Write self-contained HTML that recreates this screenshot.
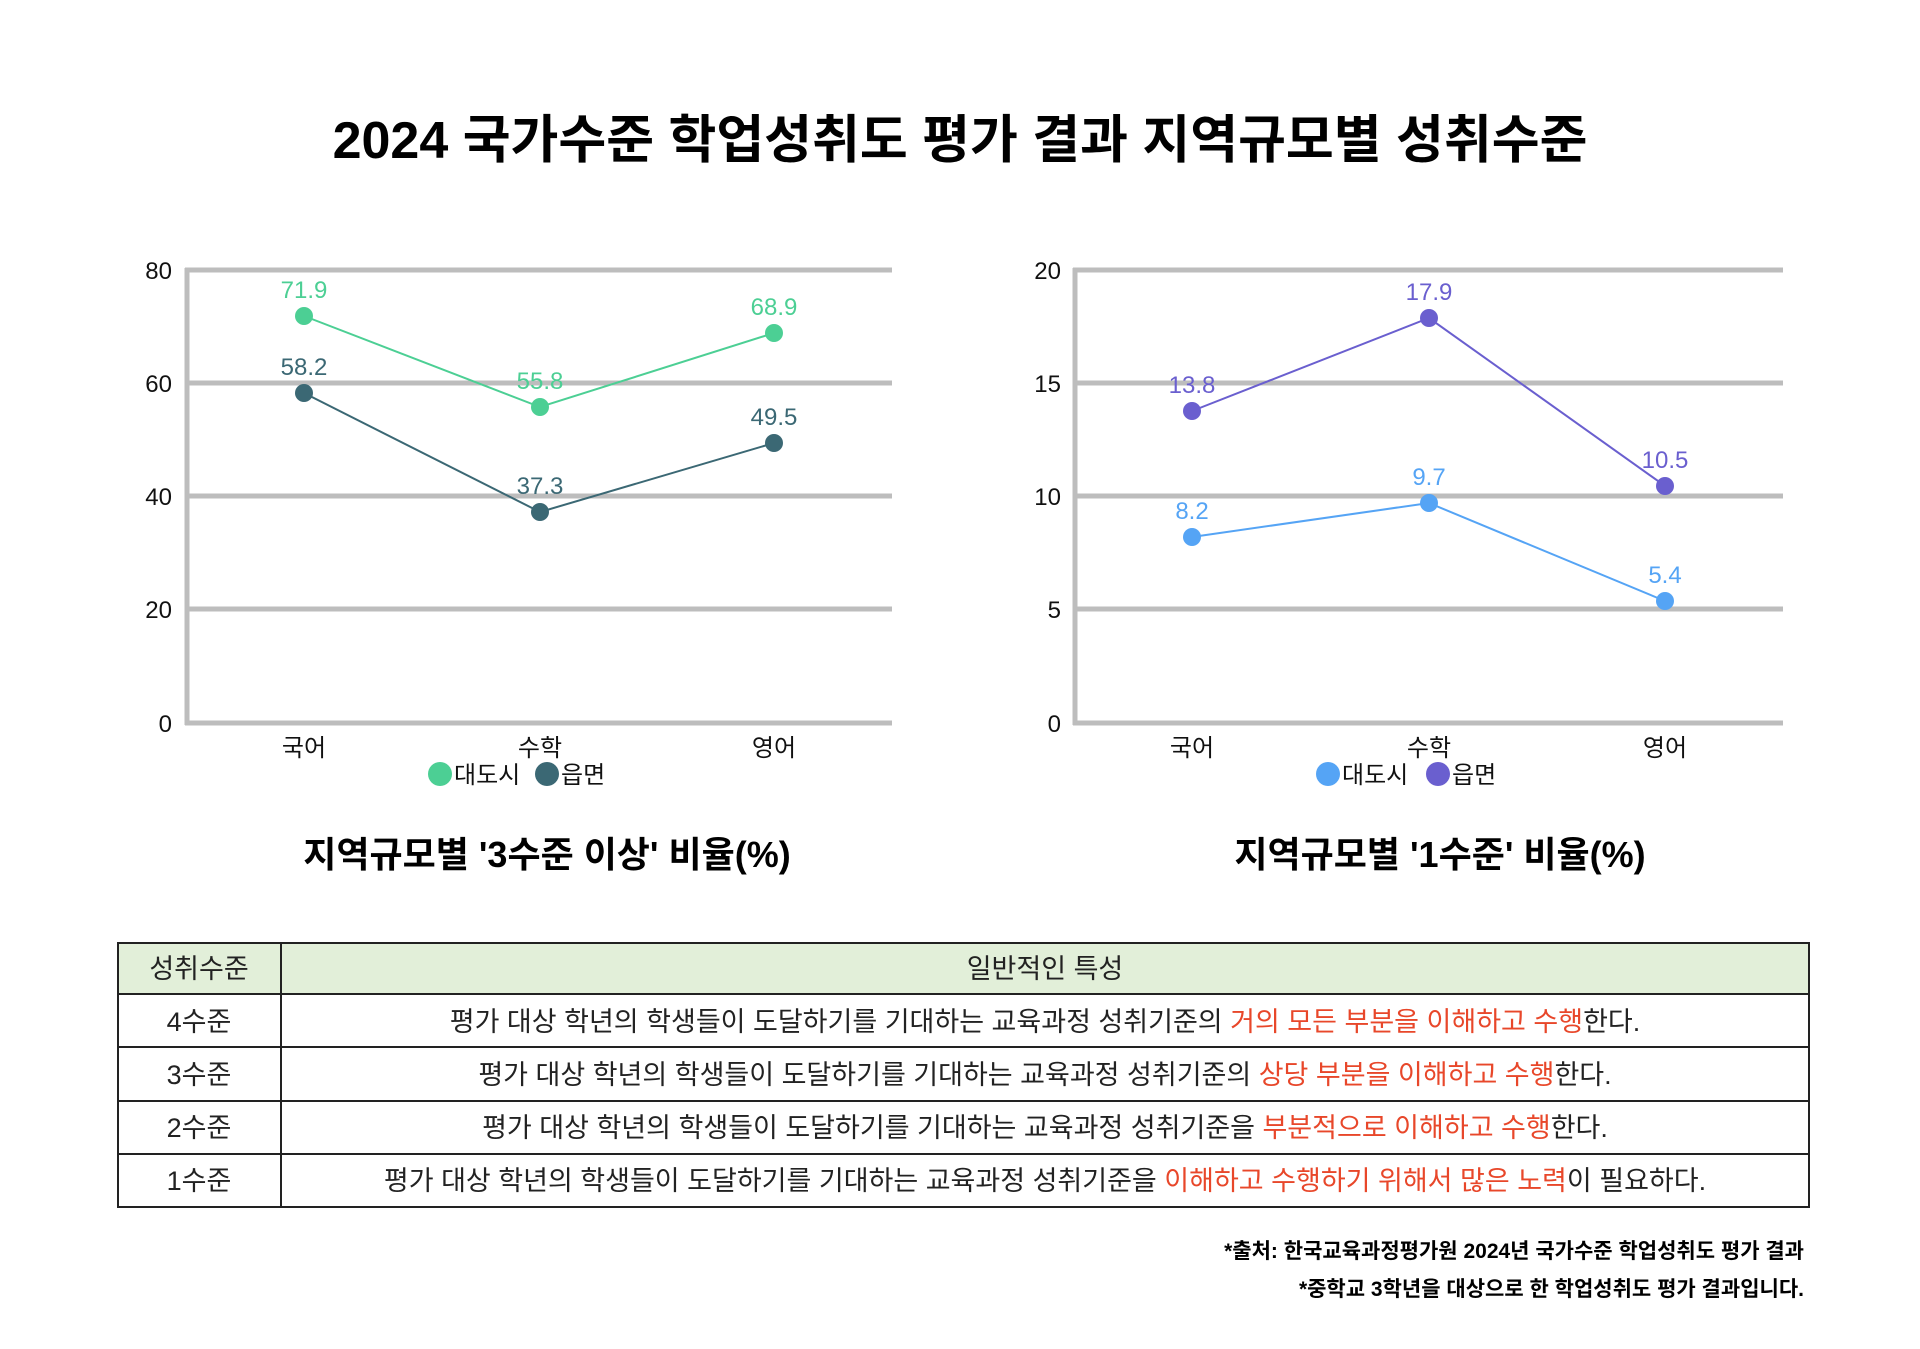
<!DOCTYPE html>
<html><head><meta charset="utf-8"><style>
body{margin:0;background:#fff;}
svg text{font-family:"Liberation Sans","Noto Sans CJK KR",sans-serif;}
</style></head><body>
<svg width="1920" height="1344" viewBox="0 0 1920 1344" xmlns="http://www.w3.org/2000/svg">
<rect width="1920" height="1344" fill="#fff"/>
<text x="960" y="158" text-anchor="middle" font-size="52" font-weight="bold" fill="#000">2024 국가수준 학업성취도 평가 결과 지역규모별 성취수준</text>

<!-- Left chart -->
<g stroke="#bdbdbd" stroke-width="5">
<line x1="185" y1="270" x2="892" y2="270"/><line x1="185" y1="383" x2="892" y2="383"/>
<line x1="185" y1="496" x2="892" y2="496"/><line x1="185" y1="609" x2="892" y2="609"/>
<line x1="185" y1="723" x2="892" y2="723"/><line x1="187" y1="268" x2="187" y2="725"/>
</g>
<g font-size="24" fill="#111" text-anchor="end">
<text x="172" y="279">80</text><text x="172" y="392">60</text><text x="172" y="505">40</text><text x="172" y="618">20</text><text x="172" y="732">0</text>
</g>
<polyline points="304,316 540,407 774,333" fill="none" stroke="#4ccf94" stroke-width="2"/>
<polyline points="304,393 540,512 774,443" fill="none" stroke="#3b6874" stroke-width="2"/>
<g fill="#4ccf94"><circle cx="304" cy="316" r="9"/><circle cx="540" cy="407" r="9"/><circle cx="774" cy="333" r="9"/></g>
<g fill="#3b6874"><circle cx="304" cy="393" r="9"/><circle cx="540" cy="512" r="9"/><circle cx="774" cy="443" r="9"/></g>
<g font-size="24" text-anchor="middle">
<text x="304" y="298" fill="#4ccf94">71.9</text><text x="540" y="389" fill="#4ccf94">55.8</text><text x="774" y="315" fill="#4ccf94">68.9</text>
<text x="304" y="375" fill="#3b6874">58.2</text><text x="540" y="494" fill="#3b6874">37.3</text><text x="774" y="425" fill="#3b6874">49.5</text>
</g>
<g font-size="24" fill="#111" text-anchor="middle">
<text x="304" y="756">국어</text><text x="540" y="756">수학</text><text x="774" y="756">영어</text>
</g>
<circle cx="440" cy="774" r="12" fill="#4ccf94"/><text x="454" y="783" font-size="24" fill="#111">대도시</text>
<circle cx="547" cy="774" r="12" fill="#3b6874"/><text x="561" y="783" font-size="24" fill="#111">읍면</text>
<text x="547" y="867" text-anchor="middle" font-size="36" font-weight="bold" fill="#000">지역규모별 '3수준 이상' 비율(%)</text>

<!-- Right chart -->
<g stroke="#bdbdbd" stroke-width="5">
<line x1="1073" y1="270" x2="1783" y2="270"/><line x1="1073" y1="383" x2="1783" y2="383"/>
<line x1="1073" y1="496" x2="1783" y2="496"/><line x1="1073" y1="609" x2="1783" y2="609"/>
<line x1="1073" y1="723" x2="1783" y2="723"/><line x1="1075" y1="268" x2="1075" y2="725"/>
</g>
<g font-size="24" fill="#111" text-anchor="end">
<text x="1061" y="279">20</text><text x="1061" y="392">15</text><text x="1061" y="505">10</text><text x="1061" y="618">5</text><text x="1061" y="732">0</text>
</g>
<polyline points="1192,411 1429,318 1665,486" fill="none" stroke="#6a5fcf" stroke-width="2"/>
<polyline points="1192,537 1429,503 1665,601" fill="none" stroke="#55a4f5" stroke-width="2"/>
<g fill="#6a5fcf"><circle cx="1192" cy="411" r="9"/><circle cx="1429" cy="318" r="9"/><circle cx="1665" cy="486" r="9"/></g>
<g fill="#55a4f5"><circle cx="1192" cy="537" r="9"/><circle cx="1429" cy="503" r="9"/><circle cx="1665" cy="601" r="9"/></g>
<g font-size="24" text-anchor="middle">
<text x="1192" y="393" fill="#6a5fcf">13.8</text><text x="1429" y="300" fill="#6a5fcf">17.9</text><text x="1665" y="468" fill="#6a5fcf">10.5</text>
<text x="1192" y="519" fill="#55a4f5">8.2</text><text x="1429" y="485" fill="#55a4f5">9.7</text><text x="1665" y="583" fill="#55a4f5">5.4</text>
</g>
<g font-size="24" fill="#111" text-anchor="middle">
<text x="1192" y="756">국어</text><text x="1429" y="756">수학</text><text x="1665" y="756">영어</text>
</g>
<circle cx="1328" cy="774" r="12" fill="#55a4f5"/><text x="1342" y="783" font-size="24" fill="#111">대도시</text>
<circle cx="1438" cy="774" r="12" fill="#6a5fcf"/><text x="1452" y="783" font-size="24" fill="#111">읍면</text>
<text x="1440" y="867" text-anchor="middle" font-size="36" font-weight="bold" fill="#000">지역규모별 '1수준' 비율(%)</text>

<!-- Table -->
<rect x="118" y="943" width="1691" height="51" fill="#e2efd9"/>
<g stroke="#222" stroke-width="2" fill="none">
<rect x="118" y="943" width="1691" height="264"/>
<line x1="118" y1="994" x2="1809" y2="994"/><line x1="118" y1="1047" x2="1809" y2="1047"/>
<line x1="118" y1="1101" x2="1809" y2="1101"/><line x1="118" y1="1154" x2="1809" y2="1154"/>
<line x1="281" y1="943" x2="281" y2="1207"/>
</g>
<g font-size="27" fill="#222" text-anchor="middle">
<text x="199" y="978">성취수준</text><text x="1045" y="978">일반적인 특성</text>
<text x="199" y="1031">4수준</text><text x="199" y="1084">3수준</text><text x="199" y="1137">2수준</text><text x="199" y="1190">1수준</text>
<text x="1045" y="1031">평가 대상 학년의 학생들이 도달하기를 기대하는 교육과정 성취기준의 <tspan fill="#e8472a">거의 모든 부분을 이해하고 수행</tspan>한다.</text>
<text x="1045" y="1084">평가 대상 학년의 학생들이 도달하기를 기대하는 교육과정 성취기준의 <tspan fill="#e8472a">상당 부분을 이해하고 수행</tspan>한다.</text>
<text x="1045" y="1137">평가 대상 학년의 학생들이 도달하기를 기대하는 교육과정 성취기준을 <tspan fill="#e8472a">부분적으로 이해하고 수행</tspan>한다.</text>
<text x="1045" y="1190">평가 대상 학년의 학생들이 도달하기를 기대하는 교육과정 성취기준을 <tspan fill="#e8472a">이해하고 수행하기 위해서 많은 노력</tspan>이 필요하다.</text>
</g>
<g font-size="21" font-weight="bold" fill="#000" text-anchor="end">
<text x="1804" y="1258">*출처: 한국교육과정평가원 2024년 국가수준 학업성취도 평가 결과</text>
<text x="1804" y="1296">*중학교 3학년을 대상으로 한 학업성취도 평가 결과입니다.</text>
</g>
</svg>
</body></html>
